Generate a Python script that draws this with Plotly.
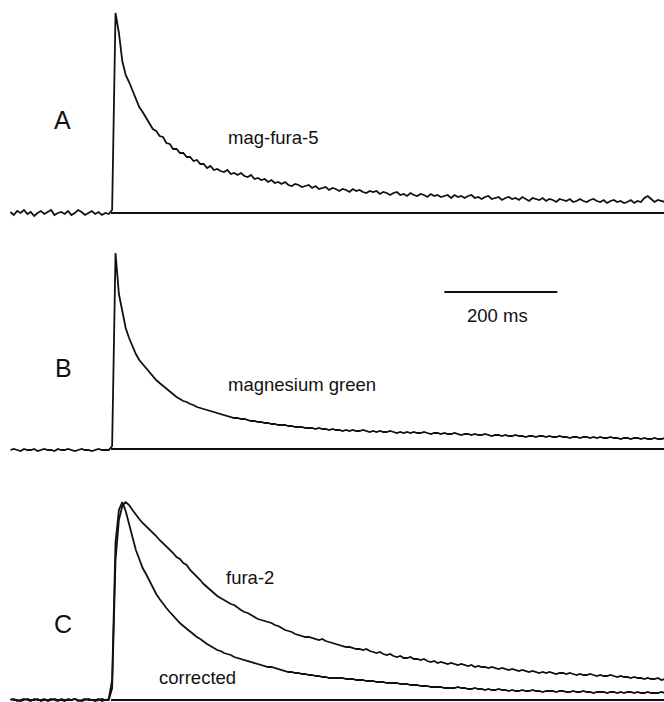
import numpy as np
import plotly.graph_objects as go

# Fluorescence transients (arbitrary units, baseline = 0), sampled every 6 ms
# starting at -178 ms relative to the stimulus.
T0_MS = -178
STEP_MS = 6

mag_fura5 = [
    1, -2, 2, 0, 3, -1, 1, -3, 0, 2, -1, 1, 3, -2, 0, 1, -1, 2, -2, 0, 3, 1, -2, 0, 2, -1, 1, -2, 0, -1,
    3, 200, 180, 152, 138, 131, 122, 114, 106, 101,
    95, 90, 84, 82, 77, 76, 70, 69, 64, 64,
    60, 60, 56, 56, 52, 53, 49, 49, 45, 47,
    43, 44, 42, 41, 43, 39, 40, 38, 40, 37,
    36, 38, 34, 35, 33, 34, 31, 33, 30, 31,
    29, 31, 28, 27, 29, 28, 26, 27, 28, 25,
    27, 24, 25, 26, 23, 25, 24, 22, 24, 23,
    21, 24, 22, 23, 21, 20, 22, 21, 22, 19,
    21, 20, 18, 20, 21, 18, 19, 17, 20, 18,
    17, 19, 18, 16, 19, 17, 18, 16, 17, 18,
    15, 18, 16, 17, 15, 17, 18, 15, 16, 14,
    16, 17, 14, 15, 16, 13, 15, 16, 14, 15,
    13, 16, 14, 12, 15, 14, 13, 15, 12, 14,
    13, 11, 14, 13, 12, 14, 11, 12, 14, 12,
    11, 13, 14, 12, 11, 13, 10, 12, 13, 11,
    12, 10, 11, 13, 10, 12, 11, 15, 17, 14,
    11, 13, 12, 11,
]

magnesium_green = [
    -1, 0, -1, -2, 0, -1, -1, 0, -2, -1, 0, -1, -1, -2, 0, -1, -1, 0, -1, -2, -1, 0, -1, -1, -2, -1, 0, -1, -1, -1,
    3, 196, 155, 136, 121, 111, 102, 95, 89, 85,
    80, 76, 73, 69, 66, 63, 60, 57, 54, 52,
    50, 48, 47, 45, 44, 42, 41, 40, 39, 38,
    37, 36, 35, 34, 33, 32, 31, 31, 30, 30,
    29, 28, 28, 27, 27, 26, 26, 25, 25, 24,
    24, 24, 23, 23, 22, 22, 22, 21, 21, 21,
    20, 21, 20, 20, 19, 20, 19, 19, 18, 19,
    18, 19, 18, 18, 19, 18, 17, 18, 17, 18,
    17, 17, 18, 17, 16, 17, 16, 17, 16, 17,
    16, 16, 17, 16, 15, 16, 16, 15, 16, 15,
    15, 16, 15, 14, 15, 15, 14, 15, 14, 14,
    15, 14, 13, 14, 14, 13, 14, 13, 13, 14,
    13, 13, 12, 13, 13, 12, 13, 13, 12, 13,
    12, 12, 13, 12, 12, 11, 12, 12, 11, 12,
    12, 11, 12, 11, 12, 11, 11, 12, 11, 11,
    10, 11, 11, 10, 11, 11, 10, 11, 10, 10,
    11, 10, 10, 11,
]

fura2 = [
    0, 1, -1, 0, 1, 0, -1, 1, 0, 0, 1, -1, 0, 1, 0, 0, -1, 1, 0, 1, 0, -1, 0, 1, 0, 0, 1, -1, 0, 0,
    12, 140, 180, 194, 198, 195, 190, 185, 181, 177,
    174, 170, 167, 164, 160, 157, 153, 151, 147, 143,
    141, 137, 135, 130, 127, 124, 120, 116, 113, 110,
    106, 104, 102, 100, 98, 96, 95, 92, 90, 88,
    87, 85, 83, 81, 80, 79, 78, 77, 75, 74,
    72, 70, 69, 68, 66, 65, 64, 63, 63, 62,
    61, 60, 61, 59, 58, 57, 56, 55, 54, 53,
    53, 52, 51, 51, 50, 51, 49, 48, 47, 48,
    46, 45, 46, 44, 43, 44, 42, 42, 43, 41,
    41, 40, 41, 39, 38, 39, 37, 38, 37, 36,
    37, 36, 35, 36, 35, 34, 35, 33, 34, 33,
    33, 32, 33, 32, 31, 32, 31, 30, 31, 30,
    29, 30, 29, 28, 29, 28, 27, 28, 27, 28,
    27, 26, 27, 27, 26, 27, 26, 25, 26, 25,
    25, 26, 25, 24, 25, 24, 24, 25, 24, 23,
    24, 23, 23, 22, 23, 22, 22, 21, 22, 21,
    21, 22, 20, 21,
]

fura2_corrected = [
    1, 0, 0, -1, 0, 1, 0, 0, 1, -1, 0, 0, 1, 0, -1, 1, 0, 0, 0, 1, -1, 0, 1, 0, 0, -1, 0, 1, 0, 1,
    20, 158, 190, 198, 189, 176, 162, 150, 141, 132,
    126, 119, 113, 106, 101, 96, 92, 88, 84, 80,
    77, 74, 71, 68, 66, 63, 61, 58, 56, 54,
    52, 50, 49, 47, 46, 45, 43, 42, 41, 40,
    39, 38, 37, 36, 35, 34, 33, 33, 32, 31,
    30, 29, 28, 28, 27, 27, 26, 26, 25, 25,
    24, 24, 23, 23, 22, 22, 22, 22, 22, 21,
    21, 21, 20, 20, 20, 19, 19, 19, 18, 18,
    18, 17, 17, 17, 17, 16, 16, 16, 15, 15,
    15, 14, 14, 14, 13, 13, 13, 13, 12, 12,
    12, 12, 13, 12, 12, 11, 11, 12, 11, 11,
    10, 11, 10, 10, 11, 10, 10, 9, 10, 9,
    9, 10, 9, 9, 10, 9, 9, 8, 9, 9,
    9, 8, 9, 9, 8, 8, 9, 8, 8, 9,
    8, 8, 7, 8, 8, 8, 7, 8, 8, 7,
    8, 7, 8, 8, 7, 8, 7, 7, 8, 7,
    7, 7, 8, 7,
]

panel_letters = ["A", "B", "C"]
trace_labels = ["mag-fura-5", "magnesium green", "fura-2", "corrected"]
scale_bar_ms = [590, 790]
scale_bar_label = "200 ms"

# ---- page geometry (pixels) ----
W, H = 664, 702
STIM_PX = 111            # horizontal position of the stimulus
MS_PER_PX = 200 / 113    # 200 ms scale bar spans 113 px
# (top, bottom, baseline) of each panel; 1 amplitude unit = 1 px
PANELS = [(0, 225, 213), (230, 460, 449), (468, 702, 700)]

FONT = "Liberation Sans, Arial, Helvetica, sans-serif"
INK = "#111111"
LW = 1.8
LABEL_SIZE = 18.5
LETTER_SIZE = 25


def times(values):
    return T0_MS + STEP_MS * np.arange(len(values))


def px(x, y):
    return x / W, 1 - y / H


x_range = [-STIM_PX * MS_PER_PX, (W - STIM_PX) * MS_PER_PX]

fig = go.Figure()

series = [
    (mag_fura5, "y"),
    (magnesium_green, "y2"),
    (fura2, "y3"),
    (fura2_corrected, "y3"),
]
for vals, yax in series:
    fig.add_trace(go.Scatter(
        x=times(vals), y=vals, mode="lines", yaxis=yax,
        line=dict(color=INK, width=LW), hoverinfo="skip", showlegend=False,
    ))

# zero-level reference line from the stimulus onward
for yax in ["y", "y2", "y3"]:
    fig.add_trace(go.Scatter(
        x=[0, x_range[1]], y=[0, 0], mode="lines", yaxis=yax,
        line=dict(color=INK, width=LW), hoverinfo="skip", showlegend=False,
    ))

# time scale bar in panel B
bar_level = PANELS[1][2] - 292
fig.add_trace(go.Scatter(
    x=scale_bar_ms, y=[bar_level, bar_level], mode="lines", yaxis="y2",
    line=dict(color=INK, width=LW), hoverinfo="skip", showlegend=False,
))

axis_common = dict(visible=False, showgrid=False, zeroline=False, fixedrange=True)
layout_axes = {}
for i, (top, bottom, base) in enumerate(PANELS):
    name = "yaxis" if i == 0 else f"yaxis{i + 1}"
    layout_axes[name] = dict(
        domain=[1 - bottom / H, 1 - top / H],
        range=[-(bottom - base), base - top],
        **axis_common,
    )

annotations = []
letter_pos = [(62.5, 120), (63, 368.5), (63, 623.5)]
for letter, (x, y) in zip(panel_letters, letter_pos):
    xp, yp = px(x, y)
    annotations.append(dict(text=letter, x=xp, y=yp, xref="paper", yref="paper",
                            xanchor="center", yanchor="middle", showarrow=False,
                            font=dict(family=FONT, size=LETTER_SIZE, color=INK)))

label_pos = [(226, 138), (226, 384), (224, 577), (157, 677)]
for label, (x, y) in zip(trace_labels, label_pos):
    xp, yp = px(x, y)
    annotations.append(dict(text=label, x=xp, y=yp, xref="paper", yref="paper",
                            xanchor="left", yanchor="middle", showarrow=False,
                            font=dict(family=FONT, size=LABEL_SIZE, color=INK)))

xp, yp = px(497, 315)
annotations.append(dict(text=scale_bar_label, x=xp, y=yp, xref="paper", yref="paper",
                        xanchor="center", yanchor="middle", showarrow=False,
                        font=dict(family=FONT, size=LABEL_SIZE, color=INK)))

fig.update_layout(
    width=W, height=H,
    margin=dict(l=0, r=0, t=0, b=0),
    paper_bgcolor="white", plot_bgcolor="white",
    xaxis=dict(domain=[0, 1], range=x_range, **axis_common),
    annotations=annotations,
    **layout_axes,
)

fig.write_html("out.html", config={"displayModeBar": False})
